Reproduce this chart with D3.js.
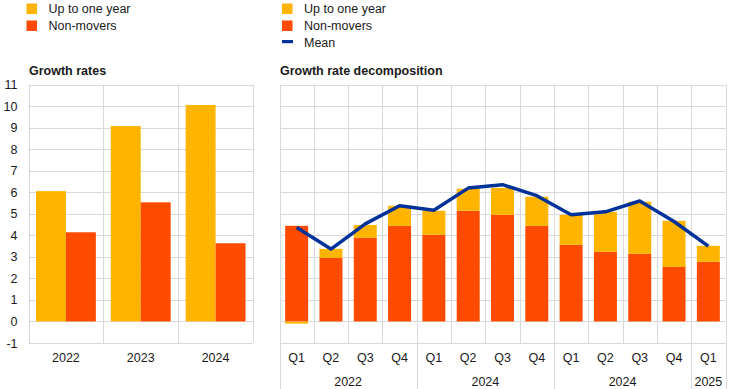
<!DOCTYPE html>
<html><head><meta charset="utf-8">
<script src="https://cdn.jsdelivr.net/npm/d3@7"></script>
<style>
body{margin:0;background:#fff;}
text{font-family:"Liberation Sans",Arial,sans-serif;fill:#1a1a1a;}
</style></head>
<body>
<svg id="c" width="742" height="389"></svg>
<script>
// ---- data ----
const years = ["2022", "2023", "2024"];
const upAnnual = [6.05, 9.07, 10.05];
const nonAnnual = [4.14, 5.53, 3.63];

const quarters = ["Q1","Q2","Q3","Q4","Q1","Q2","Q3","Q4","Q1","Q2","Q3","Q4","Q1"];
const groupLabels = ["2022", "2024", "2024", "2025"];
const groupSizes = [4, 4, 4, 1];
const nonQ = [4.44, 2.95, 3.88, 4.44, 4.02, 5.14, 4.95, 4.44, 3.56, 3.23, 3.14, 2.53, 2.77];
const upQ = [-0.1, 0.42, 0.6, 0.93, 1.12, 1.02, 1.25, 1.35, 1.39, 1.86, 2.42, 2.14, 0.74];
const meanQ = [4.36, 3.36, 4.53, 5.37, 5.16, 6.19, 6.35, 5.84, 4.95, 5.09, 5.59, 4.64, 3.5];
const yTicks = [-1,0,1,2,3,4,5,6,7,8,9,10,11];
const seriesNames = ["Up to one year", "Non-movers", "Mean"];

const YELLOW = "#ffb400", ORANGE = "#ff4b00", BLUE = "#003299", GRID = "#d9d9d9";

const svg = d3.select("#c");
const plotTop = 84.5, plotBottom = 343;
const y = d3.scaleLinear().domain([-1, 11]).range([plotBottom, plotTop]);

// ---- legends ----
function legend(xStart, items) {
  items.forEach((it, i) => {
    const cy = 8.5 + i * 17;
    if (it.type === "rect") {
      svg.append("rect").attr("x", xStart).attr("y", cy - 5).attr("width", 10.5).attr("height", 10.5).attr("fill", it.color);
    } else {
      svg.append("rect").attr("x", xStart).attr("y", cy - 2.5).attr("width", 11).attr("height", 3.2).attr("fill", it.color);
    }
    svg.append("text").attr("x", xStart + 22).attr("y", cy + 4.5).attr("font-size", "12.5px").text(it.name);
  });
}
legend(26.5, [{type:"rect", color:YELLOW, name:seriesNames[0]}, {type:"rect", color:ORANGE, name:seriesNames[1]}]);
legend(282, [{type:"rect", color:YELLOW, name:seriesNames[0]}, {type:"rect", color:ORANGE, name:seriesNames[1]}, {type:"line", color:BLUE, name:seriesNames[2]}]);

// ---- titles ----
svg.append("text").attr("x", 29).attr("y", 75).attr("font-size", "12.5px").attr("font-weight", "bold").text("Growth rates");
svg.append("text").attr("x", 280).attr("y", 75).attr("font-size", "12.5px").attr("font-weight", "bold").text("Growth rate decomposition");

// ---- left chart ----
const L0 = 28.5, L1 = 253;
const gL = svg.append("g");
const xYear = d3.scaleBand().domain(years).range([L0, L1]).paddingInner(0.2).paddingOuter(0.1);
const stepL = xYear.step();
gL.selectAll("line.h").data(yTicks).join("line")
  .attr("x1", L0).attr("x2", L1).attr("y1", d => Math.round(y(d)) + 0.5).attr("y2", d => Math.round(y(d)) + 0.5)
  .attr("stroke", GRID).attr("stroke-width", 1);
const vL = [L0, L0 + stepL, L0 + 2 * stepL, L1];
gL.selectAll("line.v").data(vL).join("line")
  .attr("x1", d => Math.round(d) + 0.5).attr("x2", d => Math.round(d) + 0.5).attr("y1", plotTop).attr("y2", plotBottom)
  .attr("stroke", GRID).attr("stroke-width", 1);
const xSub = d3.scaleBand().domain(["up", "non"]).range([0, xYear.bandwidth()]);
years.forEach((yr, i) => {
  const vals = [{k:"up", v:upAnnual[i], c:YELLOW}, {k:"non", v:nonAnnual[i], c:ORANGE}];
  gL.selectAll(null).data(vals).join("rect")
    .attr("x", d => xYear(yr) + xSub(d.k)).attr("width", xSub.bandwidth())
    .attr("y", d => y(Math.max(0, d.v))).attr("height", d => Math.abs(y(d.v) - y(0)))
    .attr("fill", d => d.c);
});
gL.selectAll("text.yt").data(yTicks).join("text")
  .attr("x", 17.5).attr("y", d => y(d) + 4.5).attr("text-anchor", "end").attr("font-size", "12.5px").text(d => d);
gL.selectAll("text.xt").data(years).join("text")
  .attr("x", d => xYear(d) + xYear.bandwidth() / 2).attr("y", 361.5).attr("text-anchor", "middle").attr("font-size", "12.5px").text(d => d);

// ---- right chart ----
const R0 = 279.5, R1 = 725.5;
const gR = svg.append("g");
const idx = quarters.map((q, i) => i);
const xq = d3.scaleBand().domain(idx).range([R0, R1]).paddingInner(0.33).paddingOuter(0.165);
const stepR = xq.step();
const bandStart = i => R0 + i * stepR;
gR.selectAll("line.h").data(yTicks).join("line")
  .attr("x1", R0).attr("x2", R1).attr("y1", d => Math.round(y(d)) + 0.5).attr("y2", d => Math.round(y(d)) + 0.5)
  .attr("stroke", GRID).attr("stroke-width", 1);
const bounds = [0];
groupSizes.forEach(s => bounds.push(bounds[bounds.length - 1] + s));
const vR = d3.range(quarters.length + 1);
gR.selectAll("line.v").data(vR).join("line")
  .attr("x1", d => Math.round(bandStart(d)) + 0.5).attr("x2", d => Math.round(bandStart(d)) + 0.5)
  .attr("y1", plotTop).attr("y2", d => bounds.includes(d) ? 389 : plotBottom)
  .attr("stroke", GRID).attr("stroke-width", 1);

const rows = idx.map(i => ({i, non: nonQ[i], up: upQ[i]}));
const stack = d3.stack().keys(["non", "up"]).offset(d3.stackOffsetDiverging);
const layers = stack(rows);
const colors = {non: ORANGE, up: YELLOW};
gR.selectAll("g.layer").data(layers).join("g").attr("fill", d => colors[d.key])
  .selectAll("rect").data(d => d).join("rect")
  .attr("x", d => xq(d.data.i)).attr("width", xq.bandwidth())
  .attr("y", d => y(d[1])).attr("height", d => y(d[0]) - y(d[1]));

const line = d3.line().x((d, i) => xq(i) + xq.bandwidth() / 2).y(d => y(d));
gR.append("path").datum(meanQ).attr("d", line).attr("fill", "none")
  .attr("stroke", BLUE).attr("stroke-width", 3.5).attr("stroke-linejoin", "round");

gR.selectAll("text.q").data(quarters).join("text")
  .attr("x", (d, i) => xq(i) + xq.bandwidth() / 2).attr("y", 361.5).attr("text-anchor", "middle").attr("font-size", "12.5px").text(d => d);
gR.selectAll("text.g").data(groupLabels).join("text")
  .attr("x", (d, i) => (bandStart(bounds[i]) + bandStart(bounds[i + 1])) / 2).attr("y", 386)
  .attr("text-anchor", "middle").attr("font-size", "12.5px").text(d => d);
</script>
</body></html>
